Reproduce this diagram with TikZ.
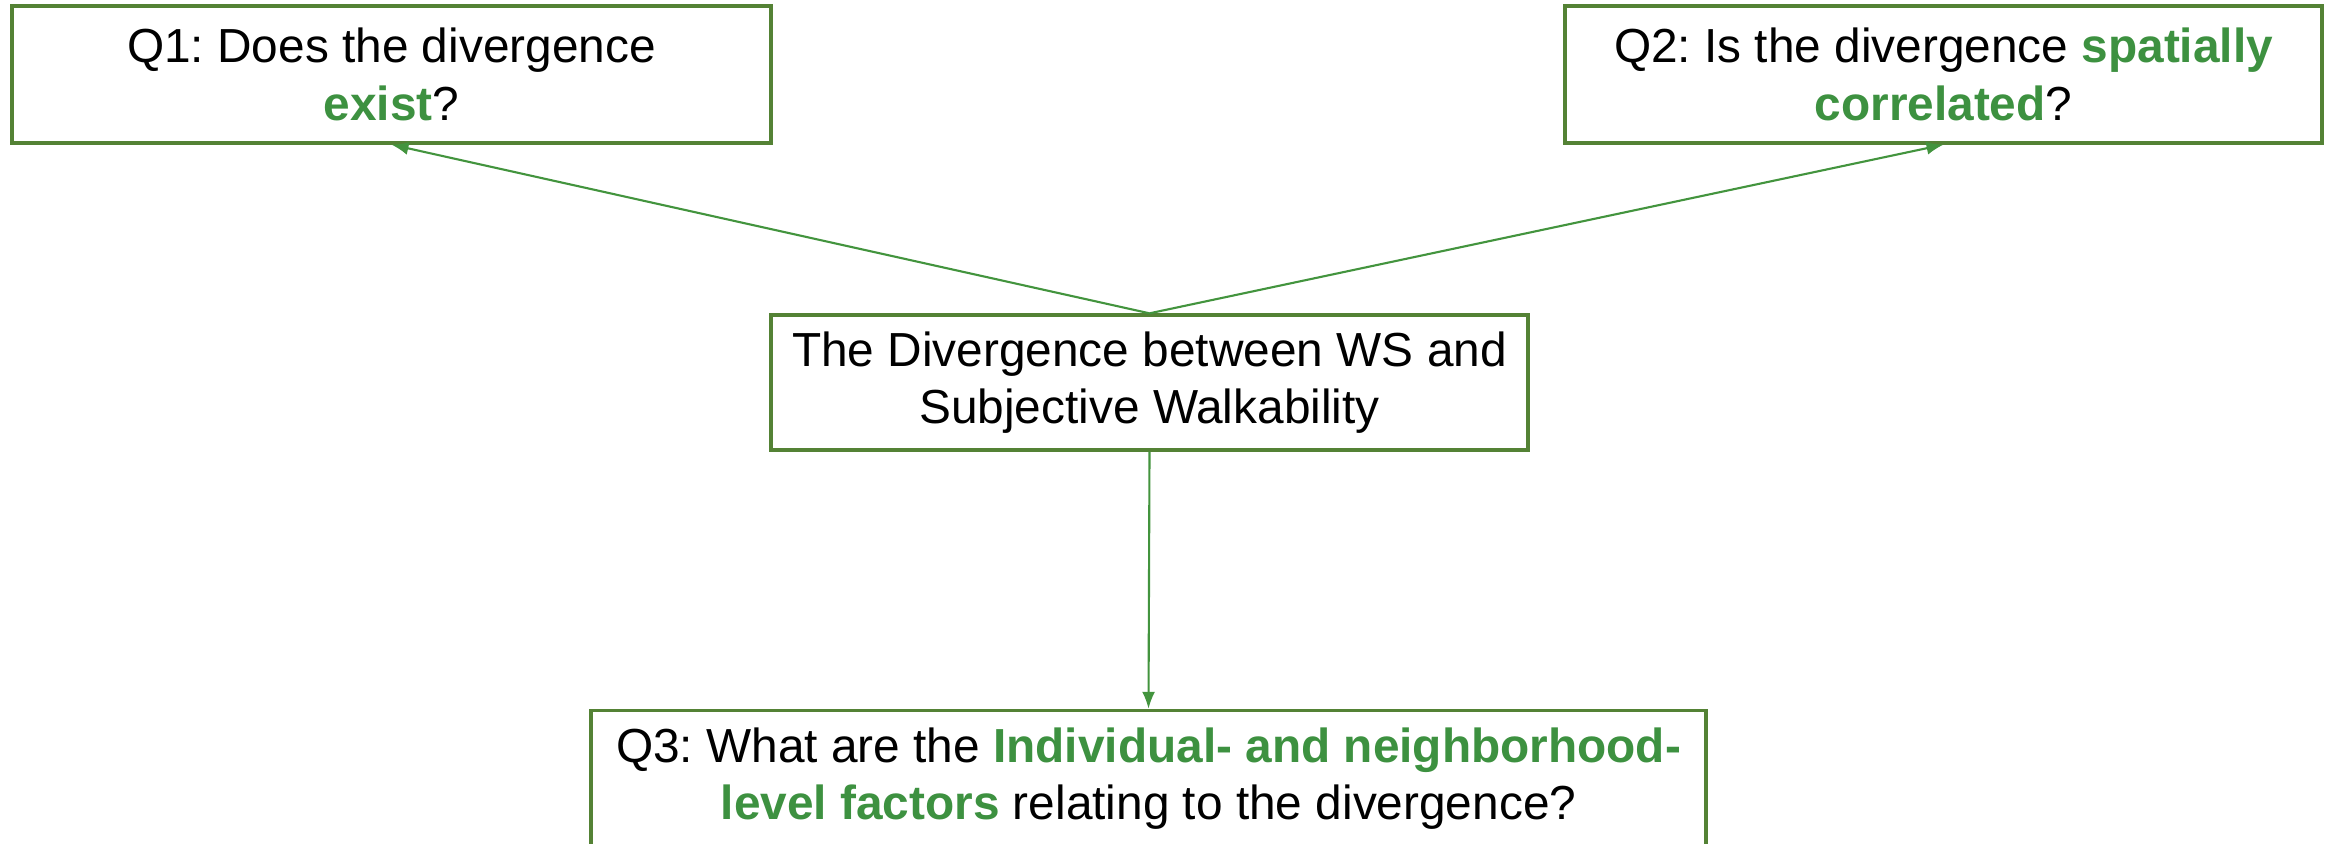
\documentclass[tikz,border=0pt]{standalone}
\usepackage{fontspec}
\setmainfont{Liberation Sans}
\usepackage{tikz}
\usetikzlibrary{arrows.meta,positioning,calc}
\definecolor{boxgreen}{RGB}{84,130,53}
\definecolor{hlgreen}{RGB}{61,145,64}
\definecolor{arrgreen}{RGB}{67,148,62}
\tikzstyle{qbox}=[draw=boxgreen,line width=0.95pt,fill=white,rectangle,minimum height=1.37cm,inner sep=0pt,align=center,font=\fontsize{13.6pt}{16.3pt}\selectfont]
\tikzstyle{link}=[draw=arrgreen,line width=0.6pt,-{Latex[length=0.17cm,width=0.13cm]}]
\newcommand{\hl}[1]{\textcolor{hlgreen}{\textbf{#1}}}
\frenchspacing

\begin{document}
\begin{tikzpicture}
\useasboundingbox (0,0) rectangle (23.29,-8.44);
\node [qbox, minimum width=7.59cm] (q1) at (3.915,-0.745) {Q1: Does the divergence\\ \hl{exist}?};
\node [qbox, minimum width=7.57cm] (q2) at (19.435,-0.745) {Q2: Is the divergence \hl{spatially}\\ \hl{correlated}?};
\node [qbox, minimum width=7.57cm, minimum height=1.35cm] (div) at (11.495,-3.825) {The Divergence between WS and\\ Subjective Walkability};
\node [qbox, minimum width=11.15cm] (q3) at (11.485,-7.79) {Q3: What are the \hl{Individual- and neighborhood-}\\ \hl{level factors} relating to the divergence?};
\draw [link] (div.north) -- (q1.south);
\draw [link] (div.north) -- (q2.south);
\draw [link] (div.south) -- (q3.north);
\end{tikzpicture}
\end{document}
